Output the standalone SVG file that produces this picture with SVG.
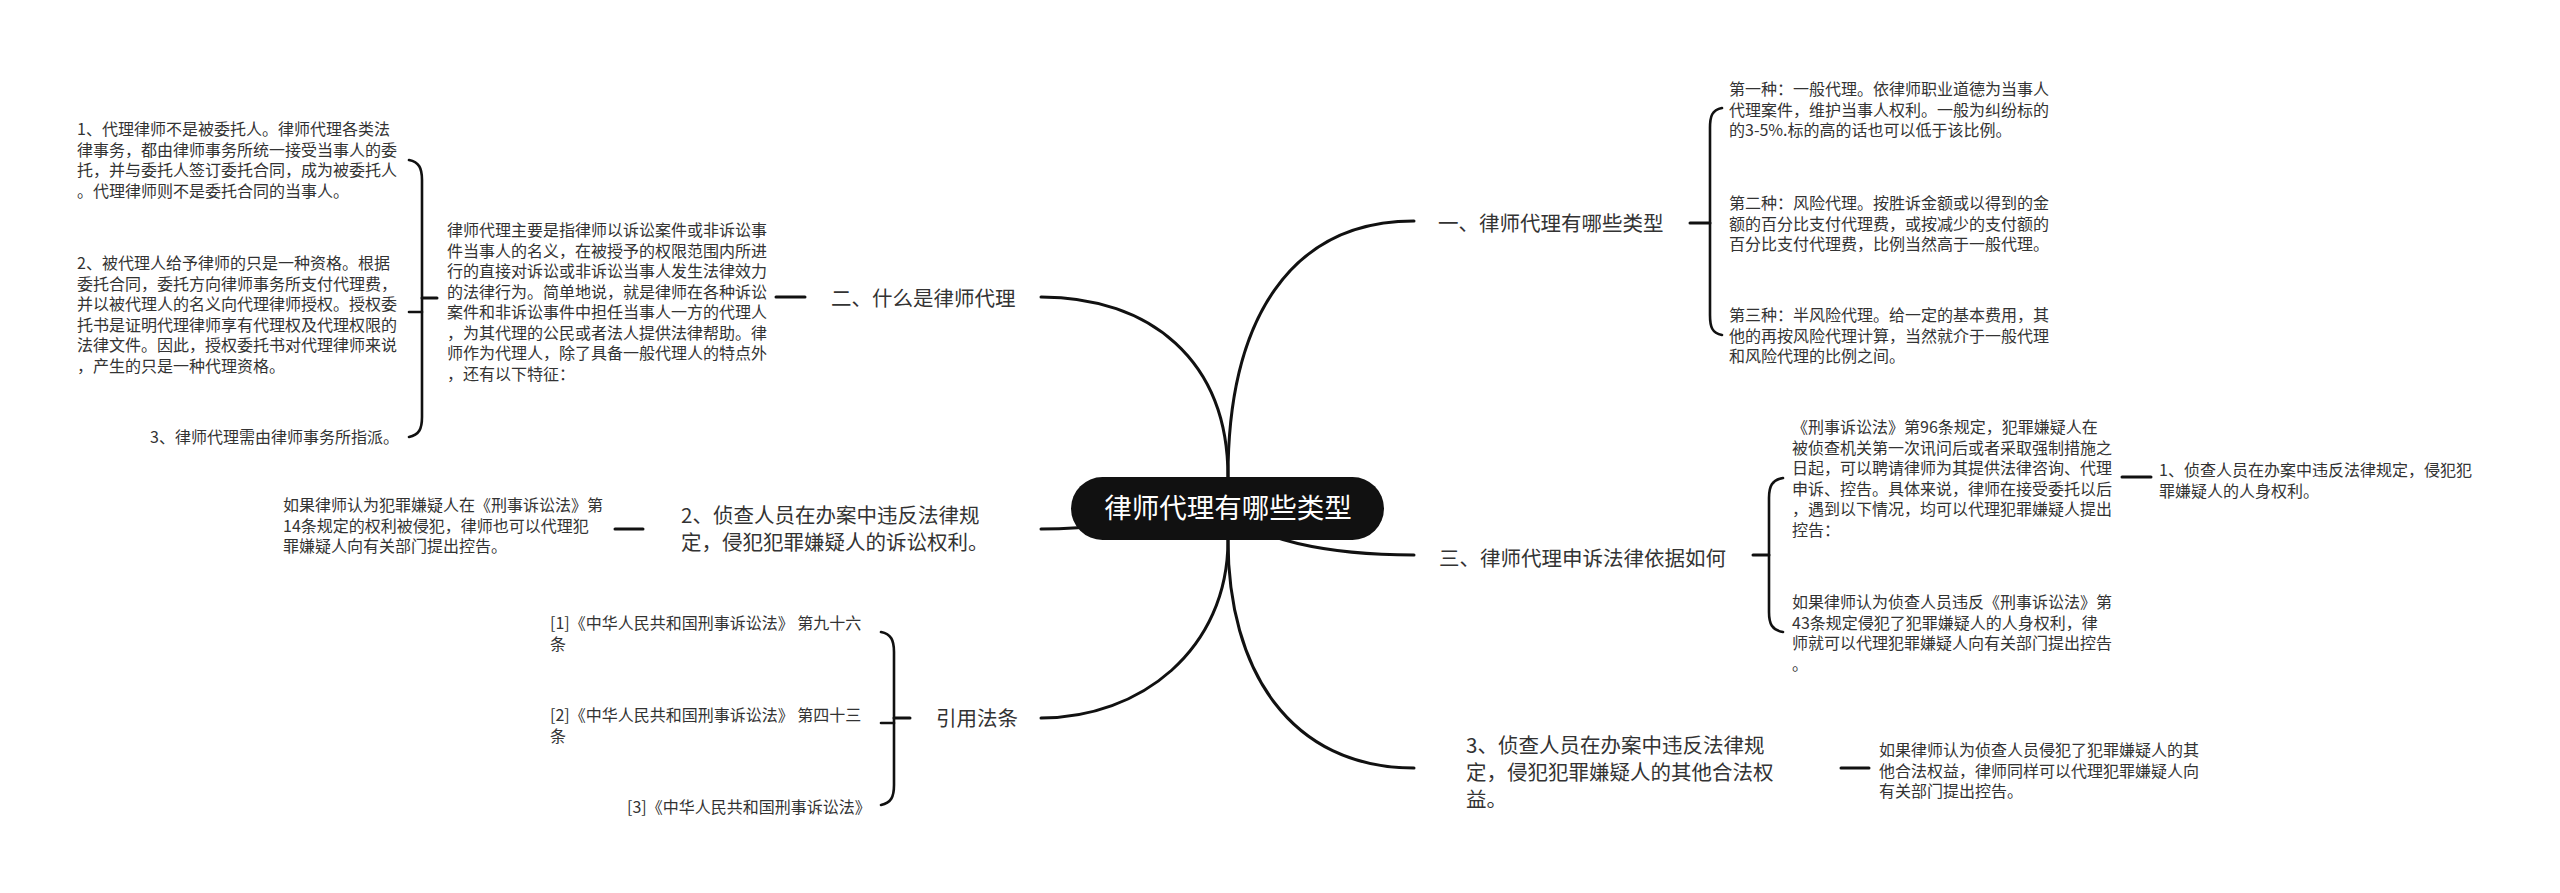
<svg xmlns="http://www.w3.org/2000/svg" width="2560" height="893" viewBox="0 0 2560 893">
<style>
.t{font-family:"Noto Sans CJK SC","Liberation Sans",sans-serif;fill:#333}
.s{font-size:16px}
.m{font-size:20.5px}
.c{font-family:"Noto Sans CJK SC","Liberation Sans",sans-serif;font-size:27.5px;fill:#fff}
.ln{fill:none;stroke:#111;stroke-width:3;stroke-linecap:round}
.br{fill:none;stroke:#111;stroke-width:2.6;stroke-linecap:round}
</style>
<rect width="2560" height="893" fill="#fff"/>
<g id="connectors">
<path class="ln" d="M1228,477 C1228,320 1290,221 1414,221"/>
<path class="ln" d="M1228,477 C1228,360 1150,297 1041,297"/>
<path class="ln" d="M1228,508 C1250,540 1330,555 1414,555"/>
<path class="ln" d="M1228,508 C1150,520 1100,529 1041,529"/>
<path class="ln" d="M1228,540 C1228,650 1140,718 1041,718"/>
<path class="ln" d="M1228,540 C1228,670 1290,768 1414,768"/>
<path class="ln" d="M1690,223 L1710,223"/>
<path class="br" d="M1722,108 C1712,110 1710,116 1710,128 L1710,315 C1710,327 1712,333 1722,335"/>
<path class="ln" d="M776,297 L805,297"/>
<path class="ln" d="M422,298 L437,298"/>
<path class="br" d="M409,160 C419,162 422,168 422,180 L422,417 C422,429 419,435 409,437"/>
<path class="br" d="M409,312 L422,312"/>
<path class="ln" d="M1753,555 L1769,555"/>
<path class="br" d="M1783,478 C1772,480 1769,486 1769,498 L1769,612 C1769,624 1772,630 1783,632"/>
<path class="ln" d="M2122,477 L2151,477"/>
<path class="ln" d="M615,529 L643,529"/>
<path class="ln" d="M894,718 L910,718"/>
<path class="br" d="M881,632 C891,634 894,640 894,652 L894,785 C894,797 891,803 881,805"/>
<path class="br" d="M881,723 L894,723"/>
<path class="ln" d="M1841,768 L1869,768"/>
</g>
<g id="root">
<rect x="1071" y="477" width="313" height="63" rx="31.5" fill="#111"/>
<text class="c" x="1228" y="518" text-anchor="middle">律师代理有哪些类型</text>
</g>
<g id="b1">
<text class="t m" x="1438" y="231">一、律师代理有哪些类型</text>
</g>
<g id="b1c1">
<text class="t s" x="1729" y="95"><tspan x="1729">第一种：一般代理。依律师职业道德为当事人</tspan><tspan x="1729" dy="20.5">代理案件，维护当事人权利。一般为纠纷标的</tspan><tspan x="1729" dy="20.5">的3-5%.标的高的话也可以低于该比例。</tspan></text>
</g>
<g id="b1c2">
<text class="t s" x="1729" y="209"><tspan x="1729">第二种：风险代理。按胜诉金额或以得到的金</tspan><tspan x="1729" dy="20.5">额的百分比支付代理费，或按减少的支付额的</tspan><tspan x="1729" dy="20.5">百分比支付代理费，比例当然高于一般代理。</tspan></text>
</g>
<g id="b1c3">
<text class="t s" x="1729" y="321"><tspan x="1729">第三种：半风险代理。给一定的基本费用，其</tspan><tspan x="1729" dy="20.5">他的再按风险代理计算，当然就介于一般代理</tspan><tspan x="1729" dy="20.5">和风险代理的比例之间。</tspan></text>
</g>
<g id="b2">
<text class="t m" x="831" y="306">二、什么是律师代理</text>
</g>
<g id="b2c1">
<text class="t s" x="447" y="236"><tspan x="447">律师代理主要是指律师以诉讼案件或非诉讼事</tspan><tspan x="447" dy="20.5">件当事人的名义，在被授予的权限范围内所进</tspan><tspan x="447" dy="20.5">行的直接对诉讼或非诉讼当事人发生法律效力</tspan><tspan x="447" dy="20.5">的法律行为。简单地说，就是律师在各种诉讼</tspan><tspan x="447" dy="20.5">案件和非诉讼事件中担任当事人一方的代理人</tspan><tspan x="447" dy="20.5">，为其代理的公民或者法人提供法律帮助。律</tspan><tspan x="447" dy="20.5">师作为代理人，除了具备一般代理人的特点外</tspan><tspan x="447" dy="20.5">，还有以下特征：</tspan></text>
</g>
<g id="b2c1a">
<text class="t s" x="77" y="135"><tspan x="77">1、代理律师不是被委托人。律师代理各类法</tspan><tspan x="77" dy="20.5">律事务，都由律师事务所统一接受当事人的委</tspan><tspan x="77" dy="20.5">托，并与委托人签订委托合同，成为被委托人</tspan><tspan x="77" dy="20.5">。代理律师则不是委托合同的当事人。</tspan></text>
</g>
<g id="b2c1b">
<text class="t s" x="77" y="269"><tspan x="77">2、被代理人给予律师的只是一种资格。根据</tspan><tspan x="77" dy="20.5">委托合同，委托方向律师事务所支付代理费，</tspan><tspan x="77" dy="20.5">并以被代理人的名义向代理律师授权。授权委</tspan><tspan x="77" dy="20.5">托书是证明代理律师享有代理权及代理权限的</tspan><tspan x="77" dy="20.5">法律文件。因此，授权委托书对代理律师来说</tspan><tspan x="77" dy="20.5">，产生的只是一种代理资格。</tspan></text>
</g>
<g id="b2c1c">
<text class="t s" x="150" y="443">3、律师代理需由律师事务所指派。</text>
</g>
<g id="b3">
<text class="t m" x="1439" y="566">三、律师代理申诉法律依据如何</text>
</g>
<g id="b3c1">
<text class="t s" x="1792" y="433"><tspan x="1792">《刑事诉讼法》第96条规定，犯罪嫌疑人在</tspan><tspan x="1792" dy="20.5">被侦查机关第一次讯问后或者采取强制措施之</tspan><tspan x="1792" dy="20.5">日起，可以聘请律师为其提供法律咨询、代理</tspan><tspan x="1792" dy="20.5">申诉、控告。具体来说，律师在接受委托以后</tspan><tspan x="1792" dy="20.5">，遇到以下情况，均可以代理犯罪嫌疑人提出</tspan><tspan x="1792" dy="20.5">控告：</tspan></text>
</g>
<g id="b3c1a">
<text class="t s" x="2159" y="476"><tspan x="2159">1、侦查人员在办案中违反法律规定，侵犯犯</tspan><tspan x="2159" dy="20.5">罪嫌疑人的人身权利。</tspan></text>
</g>
<g id="b3c2">
<text class="t s" x="1792" y="608"><tspan x="1792">如果律师认为侦查人员违反《刑事诉讼法》第</tspan><tspan x="1792" dy="20.5">43条规定侵犯了犯罪嫌疑人的人身权利，律</tspan><tspan x="1792" dy="20.5">师就可以代理犯罪嫌疑人向有关部门提出控告</tspan><tspan x="1792" dy="20.5">。</tspan></text>
</g>
<g id="b4">
<text class="t m" x="681" y="523"><tspan x="681">2、侦查人员在办案中违反法律规</tspan><tspan x="681" dy="27">定，侵犯犯罪嫌疑人的诉讼权利。</tspan></text>
</g>
<g id="b4c1">
<text class="t s" x="283" y="511"><tspan x="283">如果律师认为犯罪嫌疑人在《刑事诉讼法》第</tspan><tspan x="283" dy="20.5">14条规定的权利被侵犯，律师也可以代理犯</tspan><tspan x="283" dy="20.5">罪嫌疑人向有关部门提出控告。</tspan></text>
</g>
<g id="b5">
<text class="t m" x="936" y="726">引用法条</text>
</g>
<g id="b5c1">
<text class="t s" x="550" y="629"><tspan x="550">[1]《中华人民共和国刑事诉讼法》 第九十六</tspan><tspan x="550" dy="20.5">条</tspan></text>
</g>
<g id="b5c2">
<text class="t s" x="550" y="721"><tspan x="550">[2]《中华人民共和国刑事诉讼法》 第四十三</tspan><tspan x="550" dy="20.5">条</tspan></text>
</g>
<g id="b5c3">
<text class="t s" x="627" y="813">[3]《中华人民共和国刑事诉讼法》</text>
</g>
<g id="b6">
<text class="t m" x="1466" y="753"><tspan x="1466">3、侦查人员在办案中违反法律规</tspan><tspan x="1466" dy="27">定，侵犯犯罪嫌疑人的其他合法权</tspan><tspan x="1466" dy="27">益。</tspan></text>
</g>
<g id="b6c1">
<text class="t s" x="1879" y="756"><tspan x="1879">如果律师认为侦查人员侵犯了犯罪嫌疑人的其</tspan><tspan x="1879" dy="20.5">他合法权益，律师同样可以代理犯罪嫌疑人向</tspan><tspan x="1879" dy="20.5">有关部门提出控告。</tspan></text>
</g>
</svg>
